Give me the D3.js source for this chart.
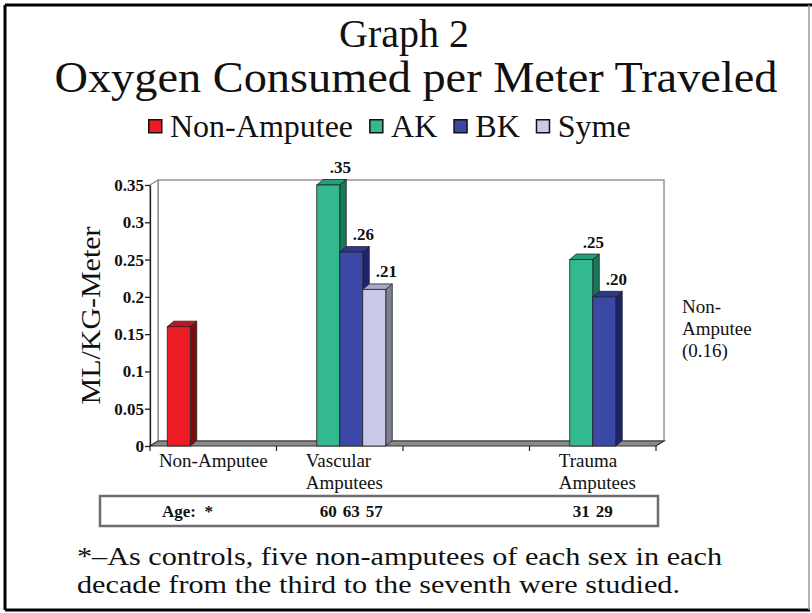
<!DOCTYPE html>
<html>
<head>
<meta charset="utf-8">
<script src="https://cdn.jsdelivr.net/npm/d3@7"></script>
<style>
  html, body { margin: 0; padding: 0; background: #fff; }
  svg { display: block; }
  text { font-family: "Liberation Serif", "Times New Roman", serif; fill: #111; }
</style>
</head>
<body>
<svg id="chart" width="812" height="613"></svg>
<script>
// ---------------- data ----------------
const titleLines = ["Graph 2", "Oxygen Consumed per Meter Traveled"];
const categories = ["Non-Amputee", "Vascular Amputees", "(gap)", "Trauma Amputees"];
const categoryLabelLines = [["Non-Amputee"], ["Vascular", "Amputees"], [], ["Trauma", "Amputees"]];
const seriesNames = ["Non-Amputee", "AK", "BK", "Syme"];
const nonAmputeeValues = [0.16, null, null, null];
const akValues   = [null, 0.35, null, 0.25];
const bkValues   = [null, 0.26, null, 0.20];
const symeValues = [null, 0.21, null, null];
const nonAmputeeLabels = [null, null, null, null];
const akLabels   = [null, ".35", null, ".25"];
const bkLabels   = [null, ".26", null, ".20"];
const symeLabels = [null, ".21", null, null];
const nonAmputeeAges = [null, null, null, null];
const akAges   = [null, "60", null, "31"];
const bkAges   = [null, "63", null, "29"];
const symeAges = [null, "57", null, null];
const ageHeader = "Age:  *";
const yTicks = [0, 0.05, 0.1, 0.15, 0.2, 0.25, 0.3, 0.35];
const yTickLabels = ["0", "0.05", "0.1", "0.15", "0.2", "0.25", "0.3", "0.35"];
const yAxisTitle = "ML/KG-Meter";
const sideNoteLines = ["Non-", "Amputee", "(0.16)"];
const footnoteLines = [
  "*\u2013As controls, five non-amputees of each sex in each",
  "decade from the third to the seventh were studied."
];

const seriesValues = [nonAmputeeValues, akValues, bkValues, symeValues];
const seriesLabels = [nonAmputeeLabels, akLabels, bkLabels, symeLabels];
const seriesAges = [nonAmputeeAges, akAges, bkAges, symeAges];

// ---------------- styles ----------------
const frontColors = ["#ec1c24", "#33b88f", "#3c48a5", "#c9cae7"];
const sideColors  = ["#7c0c10", "#16795a", "#1d2570", "#7d8091"];
const topColors   = ["#c3161c", "#23a07a", "#2d3991", "#a9aac8"];

const svg = d3.select("#chart");

// outer frame
svg.append("rect").attr("x", 0).attr("y", 0).attr("width", 812).attr("height", 613).attr("fill", "#fff");
svg.append("line").attr("x1", 5).attr("y1", 5).attr("x2", 812).attr("y2", 5).attr("stroke", "#000").attr("stroke-width", 3);
svg.append("line").attr("x1", 5).attr("y1", 5).attr("x2", 5).attr("y2", 610).attr("stroke", "#000").attr("stroke-width", 3);
svg.append("line").attr("x1", 5).attr("y1", 610).attr("x2", 810).attr("y2", 610).attr("stroke", "#000").attr("stroke-width", 3);
svg.append("line").attr("x1", 809).attr("y1", 5).attr("x2", 809).attr("y2", 610).attr("stroke", "#999").attr("stroke-width", 1.5);

// titles
svg.append("text").attr("x", 404).attr("y", 47).attr("text-anchor", "middle")
  .attr("font-size", 40).text(titleLines[0]);
svg.append("text").attr("x", 416).attr("y", 92).attr("text-anchor", "middle")
  .attr("font-size", 45).attr("textLength", 723).attr("lengthAdjust", "spacingAndGlyphs")
  .text(titleLines[1]);

// legend
{
  let x = 148;
  seriesNames.forEach((name, i) => {
    svg.append("rect").attr("x", x + 0.75).attr("y", 119.75).attr("width", 13).attr("height", 13)
      .attr("fill", frontColors[i]).attr("stroke", "#111").attr("stroke-width", 1.5);
    const t = svg.append("text").attr("x", x + 22).attr("y", 137).attr("font-size", 32).text(name);
    x = x + 22 + t.node().getComputedTextLength() + 16;
  });
}

// ---------------- scales ----------------
const x0 = 150, x1 = 656;
const yBase = 446, yTop = 185;
const depthX = 8, depthY = 5;
const barDX = 6.5, barDY = 5.5;

const x = d3.scaleBand().domain(categories).range([x0, x1]).paddingInner(0).paddingOuter(0);
const xs = d3.scaleBand().domain(seriesNames).range([0, x.bandwidth()]).paddingInner(0).paddingOuter(0.75);
const y = d3.scaleLinear().domain([0, 0.35]).range([yBase, yTop]);

// back wall
svg.append("rect").attr("x", x0 + depthX).attr("y", yTop - depthY)
  .attr("width", x1 - x0).attr("height", yBase - yTop)
  .attr("fill", "#fff").attr("stroke", "#9a9490").attr("stroke-width", 1.5);
// left wall
svg.append("path")
  .attr("d", `M${x0},${yTop} L${x0 + depthX},${yTop - depthY} L${x0 + depthX},${yBase - depthY} L${x0},${yBase} Z`)
  .attr("fill", "#fff").attr("stroke", "#8a8480").attr("stroke-width", 1.2);
// floor
svg.append("path")
  .attr("d", `M${x0},${yBase} L${x0 + depthX},${yBase - depthY} L${x1 + depthX},${yBase - depthY} L${x1},${yBase} Z`)
  .attr("fill", "#8a8a8a").attr("stroke", "#333").attr("stroke-width", 1.2);

// x ticks at category boundaries
const boundaries = categories.map(c => x(c)).concat([x1]);
svg.append("g").selectAll("line").data(boundaries).join("line")
  .attr("x1", d => d).attr("x2", d => d).attr("y1", yBase).attr("y2", yBase + 5)
  .attr("stroke", "#222").attr("stroke-width", 1.2);

// y axis
const yAxis = d3.axisLeft(y).tickValues(yTicks).tickFormat((d, i) => yTickLabels[i])
  .tickSize(5).tickSizeOuter(0).tickPadding(1);
const gy = svg.append("g").attr("transform", `translate(${x0},0)`).call(yAxis);
gy.select(".domain").attr("stroke", "#222").attr("stroke-width", 1.3);
gy.selectAll(".tick line").attr("stroke", "#222").attr("stroke-width", 1.3);
gy.selectAll(".tick text").attr("font-family", "Liberation Serif, serif")
  .attr("font-size", 17).attr("font-weight", "bold").attr("fill", "#222");

// y axis title
svg.append("text").attr("transform", `translate(100,${(yTop + yBase) / 2}) rotate(-90)`)
  .attr("text-anchor", "middle").attr("font-size", 28)
  .attr("textLength", 178).attr("lengthAdjust", "spacingAndGlyphs").text(yAxisTitle);

// bars (drawn left to right)
const bars = [];
categories.forEach((c, ci) => {
  seriesNames.forEach((s, si) => {
    const v = seriesValues[si][ci];
    if (v == null) return;
    bars.push({ c, ci, s, si, v, label: seriesLabels[si][ci] });
  });
});
bars.sort((a, b) => (x(a.c) + xs(a.s)) - (x(b.c) + xs(b.s)));

const gBars = svg.append("g");
bars.forEach(b => {
  const bx = x(b.c) + xs(b.s);
  const bw = xs.bandwidth();
  const by = y(b.v);
  const bb = y(0);
  const g = gBars.append("g");
  g.append("path")
    .attr("d", `M${bx + bw},${by} L${bx + bw + barDX},${by - barDY} L${bx + bw + barDX},${bb - barDY} L${bx + bw},${bb} Z`)
    .attr("fill", sideColors[b.si]).attr("stroke", "#222").attr("stroke-width", 0.8);
  g.append("path")
    .attr("d", `M${bx},${by} L${bx + barDX},${by - barDY} L${bx + bw + barDX},${by - barDY} L${bx + bw},${by} Z`)
    .attr("fill", topColors[b.si]).attr("stroke", "#222").attr("stroke-width", 0.8);
  g.append("rect").attr("x", bx).attr("y", by).attr("width", bw).attr("height", bb - by)
    .attr("fill", frontColors[b.si]).attr("stroke", "#222").attr("stroke-width", 0.8);
});

// value labels
svg.append("g").selectAll("text").data(bars.filter(b => b.label)).join("text")
  .attr("x", b => x(b.c) + xs(b.s) + xs.bandwidth() / 2 + 12)
  .attr("y", b => y(b.v) - 12)
  .attr("text-anchor", "middle").attr("font-size", 17).attr("font-weight", "bold")
  .text(b => b.label);

// category labels
categories.forEach((c, ci) => {
  const lines = categoryLabelLines[ci];
  if (!lines.length) return;
  const cx = x(c) + x.bandwidth() / 2;
  const single = lines.length === 1;
  lines.forEach((ln, li) => {
    svg.append("text")
      .attr("x", single ? cx : cx - 34)
      .attr("y", 467 + li * 22)
      .attr("text-anchor", single ? "middle" : "start")
      .attr("font-size", 19).text(ln);
  });
});

// age box
svg.append("rect").attr("x", 100).attr("y", 496).attr("width", 558).attr("height", 30)
  .attr("fill", "#fff").attr("stroke", "#6e6e6e").attr("stroke-width", 2.5);
svg.append("text").attr("x", 162).attr("y", 517).attr("font-size", 17).attr("font-weight", "bold")
  .attr("xml:space", "preserve").style("white-space", "pre").text(ageHeader);
const ageItems = [];
categories.forEach((c, ci) => seriesNames.forEach((s, si) => {
  const a = seriesAges[si][ci];
  if (a) ageItems.push({ c, s, a });
}));
svg.append("g").selectAll("text").data(ageItems).join("text")
  .attr("x", d => x(d.c) + xs(d.s) + xs.bandwidth() / 2)
  .attr("y", 517).attr("text-anchor", "middle")
  .attr("font-size", 17).attr("font-weight", "bold").text(d => d.a);

// side note
svg.append("g").selectAll("text").data(sideNoteLines).join("text")
  .attr("x", 682).attr("y", (d, i) => 313 + i * 22)
  .attr("font-size", 19).text(d => d);

// footnote
const footLengths = [645, 603];
svg.append("g").selectAll("text").data(footnoteLines).join("text")
  .attr("x", 77).attr("y", (d, i) => 565 + i * 28)
  .attr("font-size", 26)
  .attr("textLength", (d, i) => footLengths[i]).attr("lengthAdjust", "spacingAndGlyphs")
  .text(d => d);
</script>
</body>
</html>
